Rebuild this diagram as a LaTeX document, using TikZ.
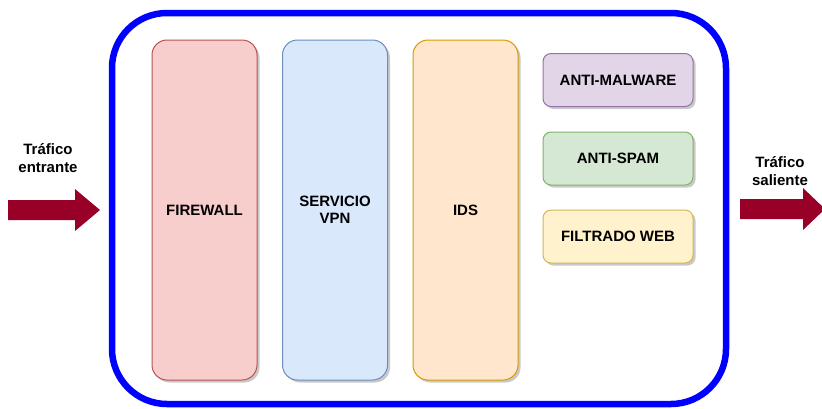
\documentclass[tikz,border=0pt]{standalone}
\usepackage{fontspec}
\setmainfont{Liberation Sans}
\usetikzlibrary{shadows}
\definecolor{outerblue}{HTML}{0000FF}
\definecolor{arrowred}{HTML}{990028}
\definecolor{redfill}{HTML}{F8CECC}\definecolor{redline}{HTML}{B85450}
\definecolor{bluefill}{HTML}{DAE8FC}\definecolor{blueline}{HTML}{6C8EBF}
\definecolor{orangefill}{HTML}{FFE6CC}\definecolor{orangeline}{HTML}{D79B00}
\definecolor{purplefill}{HTML}{E1D5E7}\definecolor{purpleline}{HTML}{9673A6}
\definecolor{greenfill}{HTML}{D5E8D4}\definecolor{greenline}{HTML}{82B366}
\definecolor{yellowfill}{HTML}{FFF2CC}\definecolor{yellowline}{HTML}{D6B656}
\tikzset{
  shade/.style={drop shadow={shadow xshift=2.5pt,shadow yshift=-2.5pt,opacity=0.35,fill=black!60}},
  boxfont/.style={font=\bfseries\fontsize{15}{17.5}\selectfont},
  tallbox/.style={draw, rounded corners=15pt, minimum width=105pt, minimum height=340pt,
    line width=1pt, align=center, boxfont, text depth=0pt, shade},
  smallbox/.style={draw, rounded corners=8pt, minimum width=150pt, minimum height=53pt,
    line width=1pt, align=center, boxfont, shade},
  caption/.style={align=center, boxfont, inner sep=0pt},
  fatarrow/.style={fill=arrowred, draw=none}
}
\begin{document}
\begin{tikzpicture}[x=1pt,y=-1pt]
\useasboundingbox (0,0) rectangle (822,408);
% outer frame
\draw[outerblue, line width=6.5pt, rounded corners=55pt,
  drop shadow={shadow xshift=2pt,shadow yshift=-2pt,opacity=0.3,fill=black!60}, fill=white]
  (112,13) rectangle (726,404);
% security layers
\node[tallbox, draw=redline, fill=redfill] (fw) at (204.5,210) {FIREWALL};
\node[tallbox, draw=blueline, fill=bluefill] (vpn) at (335,210) {SERVICIO\\VPN};
\node[tallbox, draw=orangeline, fill=orangefill] (ids) at (465.5,210) {IDS};
\node[smallbox, draw=purpleline, fill=purplefill] (malw) at (618,80) {ANTI-MALWARE};
\node[smallbox, draw=greenline, fill=greenfill] (spam) at (618,158.5) {ANTI-SPAM};
\node[smallbox, draw=yellowline, fill=yellowfill] (web) at (618,236.5) {FILTRADO WEB};
% traffic arrows
\coordinate (inTail) at (8,210);
\coordinate (inTip) at (100,210);
\fill[fatarrow] (inTail) ++(0,-10) -- ++(67,0) -- ++(0,-11) -- (inTip) -- ++(-25,21) -- ++(0,-11) -- ++(-67,0) -- cycle;
\coordinate (outTail) at (740,209);
\coordinate (outTip) at (825,209);
\fill[fatarrow] (outTail) ++(0,-10) -- ++(63,0) -- ++(0,-11) -- (outTip) -- ++(-22,21) -- ++(0,-11) -- ++(-63,0) -- cycle;
\node[caption] (inLbl) at (48,158) {Tráfico\\entrante};
\node[caption] (outLbl) at (780,171) {Tráfico\\saliente};
\end{tikzpicture}
\end{document}
